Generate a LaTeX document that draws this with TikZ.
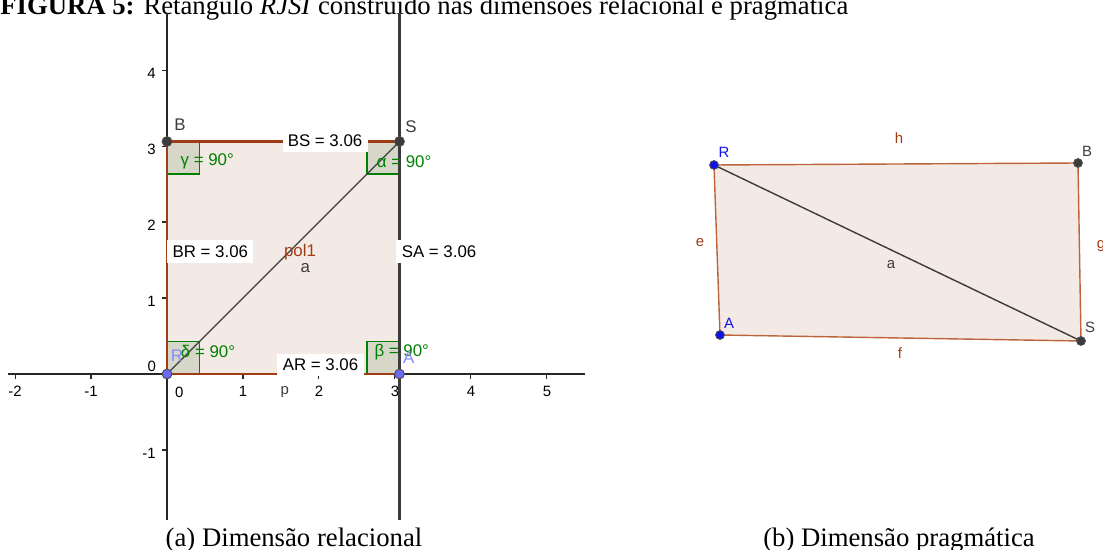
\documentclass[tikz,border=0pt]{standalone}
\usepackage{fontspec}
\setmainfont{Liberation Serif}
\setsansfont{Liberation Sans}
\usetikzlibrary{positioning, calc}
\definecolor{gbrown}{HTML}{A03C14}
\definecolor{gbrownlt}{HTML}{BE643C}
\definecolor{gfill}{HTML}{F4EAE5}
\definecolor{ggreen}{HTML}{007F00}
\definecolor{gangle}{HTML}{D6D7C8}
\definecolor{gblue}{HTML}{6A6AF5}
\definecolor{gbluedark}{HTML}{1010F0}
\definecolor{glabel}{HTML}{8A8AFF}
\definecolor{gdark}{HTML}{3C3C3C}
\tikzset{
  every picture/.style={font=\sffamily},
  axis/.style={draw=black!85, line width=0.8pt},
  tick/.style={draw=black!85, line width=0.6pt},
  ticklbl/.style={font=\sffamily\fontsize{8.5}{10}\selectfont, inner sep=1pt},
  edge/.style={draw=#1, line width=1.2pt},
  edge/.default=gbrown,
  diag/.style={draw=gdark, line width=0.8pt},
  perp/.style={draw=gdark, line width=1.6pt},
  anglebox/.style={draw=ggreen, fill=gangle, line width=0.9pt},
  dot/.style={circle, draw=black!70, fill=#1, line width=0.5pt, inner sep=0pt, minimum size=5.6pt},
  measure/.style={fill=white, font=\sffamily\fontsize{9.6}{11}\selectfont, inner sep=3pt},
  lbl/.style={font=\sffamily\fontsize{9.6}{11}\selectfont, text=#1, inner sep=0pt},
  lbl/.default=gdark,
  smalllbl/.style={font=\sffamily\fontsize{8.5}{10}\selectfont, text=#1, inner sep=0pt},
  smalllbl/.default=gdark,
  title/.style={font=\fontsize{15.2}{18}\selectfont, inner sep=0pt},
  caption/.style={font=\fontsize{15.2}{18}\selectfont, inner sep=0pt},
}

\begin{document}
\begin{tikzpicture}[x=0.02cm, y=-0.02cm]
  \useasboundingbox (0,0) rectangle (1103,550);
  \clip (0,0) rectangle (1103,550);
  % title, cut by the top edge of the scan
  \node[title, anchor=base west] (title) at (0,15) {\textbf{FIGURA 5:} Retângulo \textit{RJSI} construído nas dimensões relacional e pragmática};

  % (a) dimensao relacional: geogebra axes, one unit = 76px
  \begin{scope}[shift={(167,374)}, x=1.52cm, y=1.52cm]
    \coordinate (R) at (0,0);
    \coordinate (A) at (3.06,0);
    \coordinate (S) at (3.06,3.06);
    \coordinate (B) at (0,3.06);
    \coordinate (xl) at (-2.09,0);
    \coordinate (xr) at (5.5,0);
    \coordinate (yb) at (0,-1.92);
    \coordinate (yt) at (0,4.75);
    \coordinate (pb) at (3.06,-1.92);
    \coordinate (pt) at (3.06,4.75);
    \draw[axis] (xl) -- (xr);
    \draw[axis] (yb) -- (yt);
    \foreach \i [count=\k] in {-2,-1,1,2,3,4,5} {
      \draw[tick] (\i,0) -- (\i,-0.06);
      \node[ticklbl, anchor=north] (tx\k) at (\i,-0.13) {\i};
    }
    \foreach \j [count=\k] in {-1,1,2,3,4} {
      \draw[tick] (0,\j) -- (-0.06,\j);
      \node[ticklbl, anchor=east] (ty\k) at (-0.12,\j-0.04) {\j};
    }
    \node[ticklbl] (tx0) at (0.16,-0.24) {0};
    \node[ticklbl] (ty0) at (-0.2,0.1) {0};
    % polygon pol1
    \fill[gfill] (R) -- (A) -- (S) -- (B) -- cycle;
    \filldraw[anglebox] (B) rectangle ++(0.43,-0.43);
    \filldraw[anglebox] (S) rectangle ++(-0.43,-0.43);
    \filldraw[anglebox] (R) rectangle ++(0.43,0.43);
    \filldraw[anglebox] (A) rectangle ++(-0.43,0.43);
    \draw[edge] (R) -- (A);
    \draw[edge] (S) -- (B);
    \draw[edge] (B) -- (R);
    \draw[edge] (A) -- (S);
    \draw[diag] (R) -- (S);
    \draw[perp] (pb) -- (pt);
    \node[lbl=gbrown] (pol) at (1.75,1.61) {pol1};
    \node[lbl] (da) at (1.82,1.39) {a};
    \node[smalllbl] (p) at (1.55,-0.24) {p};
    % angles
    \node[lbl=ggreen] (gam) at (0.53,2.80) {γ = 90°};
    \node[lbl=ggreen] (alp) at (3.12,2.80) {α = 90°};
    \node[lbl=ggreen] (del) at (0.54,0.29) {δ = 90°};
    \node[lbl=ggreen] (bet) at (3.09,0.29) {β = 90°};
    % points
    \node[dot=gdark] (dB) at (B) {};
    \node[dot=gdark] (dS) at (S) {};
    \node[dot=gblue] (dR) at (R) {};
    \node[dot=gblue] (dA) at (A) {};
    \node[lbl] (lB) at (0.17,3.28) {B};
    \node[lbl] (lS) at (3.21,3.25) {S};
    \node[lbl=glabel] (lR) at (0.13,0.24) {R};
    \node[lbl=glabel] (lA) at (3.18,0.22) {A};
    % lengths
    \node[measure] (BS) at (2.08,3.07) {BS = 3.06};
    \node[measure] (BR) at (0.57,1.61) {BR = 3.06};
    \node[measure] (SA) at (3.58,1.61) {SA = 3.06};
    \node[measure] (AR) at (2.02,0.12) {AR = 3.06};
  \end{scope}

  % (b) dimensao pragmatica
  \coordinate (R2) at (714,165);
  \coordinate (B2) at (1078,163);
  \coordinate (S2) at (1081,341);
  \coordinate (A2) at (720,335);
  \fill[gfill] (R2) -- (B2) -- (S2) -- (A2) -- cycle;
  \draw[edge=gbrownlt, line width=0.8pt] (R2) -- (B2) -- (S2) -- (A2) -- cycle;
  \draw[diag] (R2) -- (S2);
  \node[dot=gbluedark, minimum size=5pt] (dR2) at (R2) {};
  \node[dot=gbluedark, minimum size=5pt] (dA2) at (A2) {};
  \node[dot=gdark, minimum size=5pt] (dB2) at (B2) {};
  \node[dot=gdark, minimum size=5pt] (dS2) at (S2) {};
  \node[smalllbl=gbluedark] (lR2) at (724,152) {R};
  \node[smalllbl=gbluedark] (lA2) at (729,323) {A};
  \node[smalllbl] (lB2) at (1087,151) {B};
  \node[smalllbl] (lS2) at (1090,327) {S};
  \node[smalllbl=gbrown] (h) at (899,138) {h};
  \node[smalllbl=gbrown] (e) at (700,243) {e};
  \node[smalllbl=gbrown] (g) at (1101,246) {g};
  \node[smalllbl=gbrown] (f) at (900,353) {f};
  \node[smalllbl] (a2) at (891,265) {a};

  % captions
  \node[caption] (capa) at (294,540) {(a) Dimensão relacional};
  \node[caption] (capb) at (899,540) {(b) Dimensão pragmática};
\end{tikzpicture}
\end{document}
